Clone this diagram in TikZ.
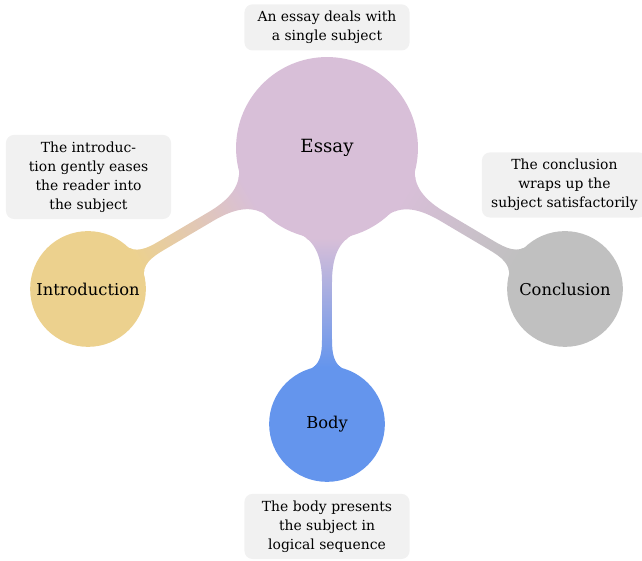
\documentclass[tikz,border=0pt]{standalone}
\usepackage{fontspec}
\setmainfont{DejaVu Serif}
\usetikzlibrary{mindmap}
\definecolor{essaycol}{RGB}{216,191,216}
\definecolor{introcol}{RGB}{236,209,142}
\definecolor{bodycol}{RGB}{100,149,237}
\definecolor{conclcol}{RGB}{192,192,192}
\definecolor{annofill}{RGB}{241,241,241}
\begin{document}
\begin{tikzpicture}[
  anno/.style={rectangle, fill=annofill, draw=none, rounded corners=0.18cm, align=center,
    minimum width=3.67cm, inner xsep=0.1cm, inner ysep=0.15cm,
    font=\fontsize{8.8}{12}\selectfont, text=black},
  conbar/.style={line width=0.24cm}
  ]
\useasboundingbox (-7.267,-9.156) rectangle (7.0,3.289);
\begin{scope}[mindmap, text=black]
  \node[concept, concept color=essaycol, minimum size=4cm, text width=3cm,
        font=\fontsize{11.5}{14}\selectfont] (essay) at (0,0) {Essay};
  \node[concept, concept color=introcol, minimum size=2.53cm, text width=2.3cm,
        font=\fontsize{10.3}{12.4}\selectfont] (intro) at (-5.311,-3.133) {Introduction};
  \node[concept, concept color=conclcol, minimum size=2.53cm, text width=2.3cm,
        font=\fontsize{10.3}{12.4}\selectfont] (concl) at (5.289,-3.133) {Conclusion};
  \node[concept, concept color=bodycol, minimum size=2.53cm, text width=2.3cm,
        font=\fontsize{10.3}{12.4}\selectfont] (body) at (0,-6.133) {Body};
  \path[conbar] (essay) to[circle connection bar switch color=from (essaycol) to (introcol)] (intro);
  \path[conbar] (essay) to[circle connection bar switch color=from (essaycol) to (conclcol)] (concl);
  \path[conbar] (essay) to[circle connection bar switch color=from (essaycol) to (bodycol)] (body);
\end{scope}
\node[anno] (aessay) at (0,2.68) {An essay deals with\\a single subject};
\node[anno] (aintro) at (-5.30,-0.644) {The introduc-\\tion gently eases\\the reader into\\the subject};
\node[anno] (aconcl) at (5.277,-0.822) {The conclusion\\wraps up the\\subject satisfactorily};
\node[anno] (abody) at (0,-8.41) {The body presents\\the subject in\\logical sequence};
\end{tikzpicture}
\end{document}
